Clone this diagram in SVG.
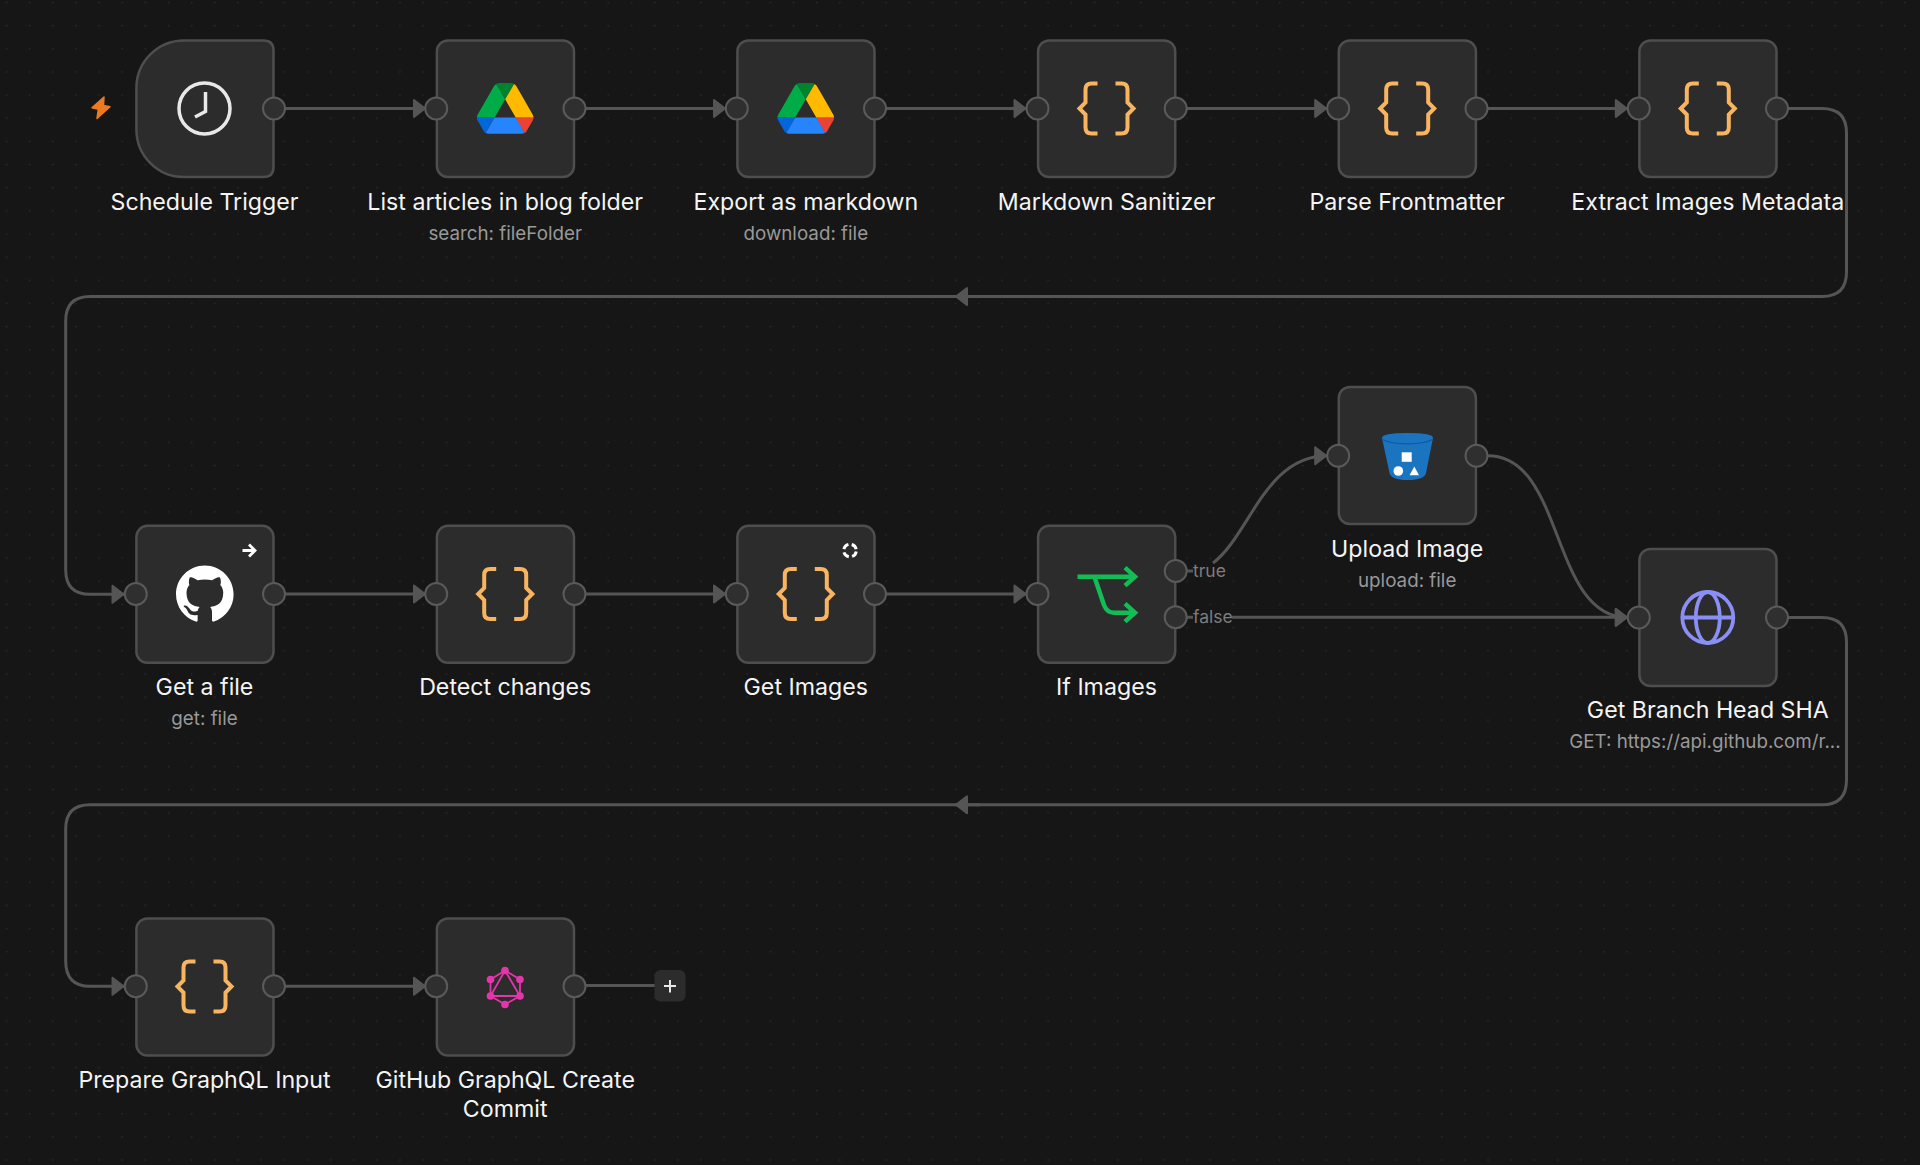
<svg xmlns="http://www.w3.org/2000/svg" width="1920" height="1165" viewBox="0 0 1920 1165">
<style>
.bg{fill:#161616}
.n{fill:#2c2c2c;stroke:#4e4e4e;stroke-width:2.5}
.p{fill:#2f2f2f;stroke:#5a5a5a;stroke-width:2}
.c{fill:none;stroke:#555;stroke-width:3}
.t{font-family:Inter,"Liberation Sans",sans-serif;font-size:23.2px;fill:#f4f4f4;text-anchor:middle}
.s{font-family:Inter,"Liberation Sans",sans-serif;font-size:18.8px;fill:#999;text-anchor:middle}
.b{font-family:Inter,"Liberation Sans",sans-serif;font-size:17.5px;fill:#7d7d7d}
.br{fill:none;stroke:#f9b45f;stroke-width:4;stroke-linejoin:miter}
</style>
<defs>
<pattern id="dots" width="23.15" height="23.15" patternUnits="userSpaceOnUse"><circle cx="6.45" cy="2.45" r="0.85" fill="#2a2a2a"/></pattern>
<marker id="a" markerUnits="userSpaceOnUse" markerWidth="18" markerHeight="24" refX="14" refY="12" orient="auto"><path d="M2 3.500L13 12L2 20.500Z" fill="#555" stroke="#555" stroke-width="2" stroke-linejoin="round"/></marker>
<g id="brace"><path class="br" d="M-9 -25H-15Q-21 -25 -21 -19V-6L-27 0L-21 6V19Q-21 25 -15 25H-9"/><path class="br" d="M9 -25H15Q21 -25 21 -19V-6L27 0L21 6V19Q21 25 15 25H9"/></g>
<g id="drive" transform="translate(-28.4 -25.4) scale(.65)">
<path fill="#0066da" d="m6.6 66.85 3.85 6.65c.8 1.4 1.95 2.5 3.3 3.3l13.75-23.8h-27.5c0 1.55.4 3.1 1.2 4.5z"/>
<path fill="#00ac47" d="m43.65 25-13.75-23.8c-1.35.8-2.5 1.9-3.3 3.3l-25.4 44a9.06 9.06 0 0 0 -1.2 4.5h27.5z"/>
<path fill="#ea4335" d="m73.55 76.8c1.35-.8 2.5-1.9 3.3-3.3l1.6-2.75 7.65-13.25c.8-1.4 1.2-2.95 1.2-4.5h-27.502l5.852 11.5z"/>
<path fill="#00832d" d="m43.65 25 13.75-23.8c-1.35-.8-2.9-1.2-4.5-1.2h-18.5c-1.6 0-3.15.45-4.5 1.2z"/>
<path fill="#2684fc" d="m59.8 53h-32.3l-13.75 23.8c1.35.8 2.9 1.2 4.5 1.2h50.8c1.6 0 3.15-.45 4.5-1.2z"/>
<path fill="#ffba00" d="m73.4 26.5-12.7-22c-.8-1.4-1.95-2.5-3.3-3.3l-13.75 23.8 16.15 28h27.45c0-1.55-.4-3.1-1.2-4.5z"/>
</g>
</defs>
<rect class="bg" width="1920" height="1165"/>
<rect fill="url(#dots)" width="1920" height="1165"/>
<g id="connectors">
<path class="c" marker-end="url(#a)" d="M285 108.500H426"/>
<path class="c" marker-end="url(#a)" d="M585 108.500H726"/>
<path class="c" marker-end="url(#a)" d="M886 108.500H1026.500"/>
<path class="c" marker-end="url(#a)" d="M1187 108.500H1327.200"/>
<path class="c" marker-end="url(#a)" d="M1487 108.500H1627.800"/>
<path class="c" d="M1788 108.500H1822Q1846.500 108.500 1846.500 133V272Q1846.500 296.500 1822 296.500H90Q65.700 296.500 65.700 321V570Q65.700 594.300 90 594.300H124.500" marker-end="url(#a)"/>
<path class="c" marker-end="url(#a)" d="M980 296.500H955"/>
<path class="c" marker-end="url(#a)" d="M285 594H426"/>
<path class="c" marker-end="url(#a)" d="M585 594H726"/>
<path class="c" marker-end="url(#a)" d="M886 594H1026.500"/>
<path class="c" marker-end="url(#a)" d="M1213 563C1250 535 1265 455.700 1327.200 455.700"/>
<path class="c" d="M1187 571H1193M1187 617.300H1193"/>
<path class="c" marker-end="url(#a)" d="M1232 617.300H1627.800"/>
<path class="c" marker-end="url(#a)" d="M1488 455.700C1565 455.700 1550 617.500 1627.800 617.500"/>
<path class="c" d="M1788 617.500H1822Q1846.500 617.500 1846.500 642V780Q1846.500 804.800 1822 804.800H90Q65.700 804.800 65.700 829V961Q65.700 986.300 90 986.300H124.500" marker-end="url(#a)"/>
<path class="c" marker-end="url(#a)" d="M980 804.800H955"/>
<path class="c" marker-end="url(#a)" d="M285 986.300H426"/>
<path class="c" d="M585 985.500H656"/>
</g>
<g id="trigger-mark"><path fill="#ee7a1f" stroke="#ee7a1f" stroke-width="1.500" stroke-linejoin="round" d="M104 97L92 107.800L98.300 109.300L97 118.500L110 106.800L103.500 105.500Z"/></g>
<g id="schedule-trigger">
<path class="n" d="M184 40.400H263.500Q273.500 40.400 273.500 50.400V167Q273.500 177 263.500 177H184A47.600 47.600 0 0 1 136.400 129.400V88A47.600 47.600 0 0 1 184 40.400Z"/>
<circle cx="204.500" cy="108.500" r="25.500" fill="none" stroke="#e8e8e8" stroke-width="3.500"/>
<path d="M205.500 92V111.500L195 117" fill="none" stroke="#e8e8e8" stroke-width="3.500"/>
<circle class="p" cx="274" cy="108.500" r="11"/>
<text class="t" x="204.500" y="210">Schedule Trigger</text>
</g>
<g id="list-articles">
<rect class="n" x="436.900" y="40.400" width="137.100" height="136.600" rx="11"/>
<use href="#drive" x="505.200" y="108.500"/>
<circle class="p" cx="436.200" cy="108.500" r="11"/><circle class="p" cx="574.500" cy="108.500" r="11"/>
<text class="t" x="505.200" y="210">List articles in blog folder</text>
<text class="s" x="505.200" y="240">search: fileFolder</text>
</g>
<g id="export-markdown">
<rect class="n" x="737.400" y="40.400" width="137.100" height="136.600" rx="11"/>
<use href="#drive" x="805.800" y="108.500"/>
<circle class="p" cx="736.800" cy="108.500" r="11"/><circle class="p" cx="875" cy="108.500" r="11"/>
<text class="t" x="805.800" y="210">Export as markdown</text>
<text class="s" x="805.800" y="240">download: file</text>
</g>
<g id="markdown-sanitizer">
<rect class="n" x="1038.100" y="40.400" width="137.100" height="136.600" rx="11"/>
<use href="#brace" x="1106.500" y="108.500"/>
<circle class="p" cx="1037.500" cy="108.500" r="11"/><circle class="p" cx="1175.700" cy="108.500" r="11"/>
<text class="t" x="1106.500" y="210">Markdown Sanitizer</text>
</g>
<g id="parse-frontmatter">
<rect class="n" x="1338.800" y="40.400" width="137.100" height="136.600" rx="11"/>
<use href="#brace" x="1407.200" y="108.500"/>
<circle class="p" cx="1338.200" cy="108.500" r="11"/><circle class="p" cx="1476.500" cy="108.500" r="11"/>
<text class="t" x="1407.200" y="210">Parse Frontmatter</text>
</g>
<g id="extract-images">
<rect class="n" x="1639.400" y="40.400" width="137.100" height="136.600" rx="11"/>
<use href="#brace" x="1707.800" y="108.500"/>
<circle class="p" cx="1638.800" cy="108.500" r="11"/><circle class="p" cx="1777" cy="108.500" r="11"/>
<text class="t" x="1707.800" y="210">Extract Images Metadata</text>
</g>
<g id="get-a-file">
<rect class="n" x="136.400" y="525.800" width="137.100" height="137" rx="11"/>
<path fill="#fff" transform="translate(176 565.500) scale(3.6)" d="M8 0C3.58 0 0 3.58 0 8c0 3.54 2.29 6.53 5.47 7.59.4.07.55-.17.55-.38 0-.19-.01-.82-.01-1.49-2.01.37-2.53-.49-2.69-.94-.09-.23-.48-.94-.82-1.13-.28-.15-.68-.52-.01-.53.63-.01 1.08.58 1.23.82.72 1.21 1.87.87 2.33.66.07-.52.28-.87.51-1.07-1.78-.2-3.64-.89-3.64-3.95 0-.87.31-1.59.82-2.15-.08-.2-.36-1.02.08-2.12 0 0 .67-.21 2.2.82.64-.18 1.32-.27 2-.27.68 0 1.36.09 2 .27 1.53-1.04 2.2-.82 2.2-.82.44 1.1.16 1.92.08 2.12.51.56.82 1.27.82 2.15 0 3.07-1.87 3.75-3.65 3.95.29.25.54.73.54 1.48 0 1.07-.01 1.93-.01 2.2 0 .21.15.46.55.38A8.013 8.013 0 0016 8c0-4.42-3.58-8-8-8z"/>
<path d="M242.500 550.500H254.500M249 544.500L255 550.500L249 556.500" fill="none" stroke="#fff" stroke-width="2.800"/>
<circle class="p" cx="135.800" cy="594" r="11"/><circle class="p" cx="274" cy="594" r="11"/>
<text class="t" x="204.500" y="695">Get a file</text>
<text class="s" x="204.500" y="725">get: file</text>
</g>
<g id="detect-changes">
<rect class="n" x="436.900" y="525.800" width="137.100" height="137" rx="11"/>
<use href="#brace" x="505.200" y="594"/>
<circle class="p" cx="436.200" cy="594" r="11"/><circle class="p" cx="574.500" cy="594" r="11"/>
<text class="t" x="505.200" y="695">Detect changes</text>
</g>
<g id="get-images">
<rect class="n" x="737.400" y="525.800" width="137.100" height="137" rx="11"/>
<use href="#brace" x="805.800" y="594"/>
<circle cx="850" cy="550.500" r="6.300" fill="none" stroke="#fff" stroke-width="3" stroke-dasharray="6.500 3.400" stroke-dashoffset="-1"/>
<circle class="p" cx="736.800" cy="594" r="11"/><circle class="p" cx="875" cy="594" r="11"/>
<text class="t" x="805.800" y="695">Get Images</text>
</g>
<g id="if-images">
<rect class="n" x="1038.100" y="525.800" width="137.100" height="137" rx="11"/>
<path d="M1077.500 576.700H1134M1125 567.700L1135 576.700L1125 585.700M1094.500 577L1104 605Q1107 612.700 1114 612.700H1134M1125 603.700L1135 612.700L1125 621.700" fill="none" stroke="#12bd55" stroke-width="4.500"/>
<circle class="p" cx="1037.500" cy="594" r="11"/><circle class="p" cx="1175.700" cy="571" r="11"/><circle class="p" cx="1175.700" cy="617.300" r="11"/>
<text class="b" x="1193" y="577">true</text>
<text class="b" x="1193" y="623">false</text>
<text class="t" x="1106.500" y="695">If Images</text>
</g>
<g id="upload-image">
<rect class="n" x="1338.800" y="387" width="137.100" height="137" rx="11"/>
<path fill="#1b74bf" d="M1382 438Q1382 433 1407.500 433Q1433 433 1433 438L1426 473Q1424.500 480 1407.500 480Q1391 480 1389.500 473Z"/>
<path d="M1382.500 439.500Q1390 443.800 1407.500 443.800Q1425 443.800 1432.500 439.500" fill="none" stroke="#125a98" stroke-width="1.300"/>
<rect x="1401.700" y="452.300" width="10" height="9.500" fill="#fff"/>
<circle cx="1398.300" cy="471" r="4.800" fill="#fff"/>
<path d="M1414.300 466.500L1419 475.300H1409.600Z" fill="#fff"/>
<circle class="p" cx="1338.200" cy="455.700" r="11"/><circle class="p" cx="1476.500" cy="455.700" r="11"/>
<text class="t" x="1407.200" y="556.700">Upload Image</text>
<text class="s" x="1407.200" y="586.700">upload: file</text>
</g>
<g id="get-branch-head">
<rect class="n" x="1639.400" y="549" width="137.100" height="137" rx="11"/>
<g fill="none" stroke="#8a8ff5" stroke-width="3.800"><circle cx="1707.800" cy="617.500" r="25.500"/><ellipse cx="1707.800" cy="617.500" rx="12" ry="25.500"/><path d="M1682.300 617.500H1733.300"/></g>
<circle class="p" cx="1638.800" cy="617.500" r="11"/><circle class="p" cx="1777" cy="617.500" r="11"/>
<text class="t" x="1707.800" y="718">Get Branch Head SHA</text>
<text class="s" x="1705" y="748">GET: https://api.github.com/r...</text>
</g>
<g id="prepare-graphql">
<rect class="n" x="136.400" y="918.500" width="137.100" height="137" rx="11"/>
<use href="#brace" x="204.500" y="986.500"/>
<circle class="p" cx="135.800" cy="986.300" r="11"/><circle class="p" cx="274" cy="986.300" r="11"/>
<text class="t" x="204.500" y="1088">Prepare GraphQL Input</text>
</g>
<g id="github-graphql">
<rect class="n" x="436.900" y="918.500" width="137.100" height="137" rx="11"/>
<path d="M505 970.500L520 979.500V996L505 1004.500L490.500 996V979.500ZM505 970.500L520 996H490.500Z" fill="none" stroke="#e535ab" stroke-width="1.800"/>
<g fill="#e535ab"><circle cx="505" cy="970.500" r="3.800"/><circle cx="520" cy="979.500" r="3.800"/><circle cx="520" cy="996" r="3.800"/><circle cx="505" cy="1004.500" r="3.800"/><circle cx="490.500" cy="996" r="3.800"/><circle cx="490.500" cy="979.500" r="3.800"/></g>
<circle class="p" cx="436.200" cy="986.300" r="11"/><circle class="p" cx="574.500" cy="986.300" r="11"/>
<text class="t" x="505.200" y="1088">GitHub GraphQL Create</text>
<text class="t" x="505.200" y="1117">Commit</text>
</g>
<g id="add-node">
<rect x="654.500" y="970" width="31" height="31.500" rx="6" fill="#2c2c2c"/>
<path d="M670 980V992.500M664 986H676" stroke="#e8e8e8" stroke-width="2" fill="none"/>
</g>
</svg>
